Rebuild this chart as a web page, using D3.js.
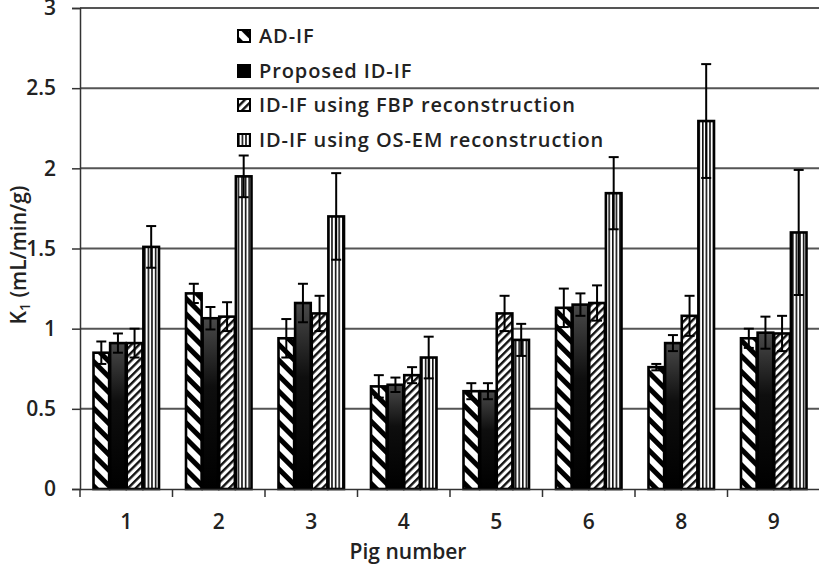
<!DOCTYPE html>
<html><head><meta charset="utf-8">
<script src="https://cdn.jsdelivr.net/npm/d3@7"></script>
<style>body{margin:0;background:#fff}svg{display:block}text{font-family:"Open Sans",sans-serif;fill:#222}</style>
</head><body><svg id="c" width="819" height="564"></svg>
<script>
const pigs = ["1","2","3","4","5","6","8","9"];
const seriesNames = ["AD-IF","Proposed ID-IF","ID-IF using FBP reconstruction","ID-IF using OS-EM reconstruction"];
const adif    = [0.85,1.22,0.94,0.64,0.61,1.13,0.76,0.94];
const adifErr = [0.07,0.06,0.12,0.07,0.05,0.12,0.02,0.06];
const prop    = [0.91,1.065,1.16,0.65,0.61,1.15,0.91,0.975];
const propErr = [0.06,0.07,0.12,0.045,0.05,0.07,0.05,0.10];
const fbp     = [0.91,1.075,1.095,0.71,1.095,1.16,1.08,0.97];
const fbpErr  = [0.09,0.09,0.11,0.05,0.11,0.11,0.125,0.11];
const osem    = [1.51,1.95,1.70,0.82,0.93,1.845,2.295,1.60];
const osemErr = [0.13,0.13,0.27,0.13,0.10,0.225,0.355,0.39];
const yTicks = [0,0.5,1,1.5,2,2.5,3];

const values = [adif, prop, fbp, osem];
const errs = [adifErr, propErr, fbpErr, osemErr];

const svg = d3.select("#c");
const defs = svg.append("defs");
const p1 = defs.append("pattern").attr("id","pAD").attr("patternUnits","userSpaceOnUse")
  .attr("width",11).attr("height",11).attr("patternTransform","rotate(45)");
p1.append("rect").attr("width",11).attr("height",11).attr("fill","#fff");
p1.append("rect").attr("x",0).attr("y",0).attr("width",11).attr("height",5).attr("fill","#000");
const p3 = defs.append("pattern").attr("id","pFBP").attr("patternUnits","userSpaceOnUse")
  .attr("width",5.5).attr("height",5.5).attr("patternTransform","rotate(-45)");
p3.append("rect").attr("width",5.5).attr("height",5.5).attr("fill","#fff");
p3.append("rect").attr("x",0).attr("y",0).attr("width",5.5).attr("height",2.4).attr("fill","#111");
const p4 = defs.append("pattern").attr("id","pOS").attr("patternUnits","userSpaceOnUse")
  .attr("width",3.6).attr("height",10);
p4.append("rect").attr("width",3.6).attr("height",10).attr("fill","#fff");
p4.append("rect").attr("x",0).attr("y",0).attr("width",1.6).attr("height",10).attr("fill","#111");
const g2 = defs.append("linearGradient").attr("id","gProp").attr("x1",0).attr("y1",0).attr("x2",0).attr("y2",1);
g2.append("stop").attr("offset","0%").attr("stop-color","#4a4a4a");
g2.append("stop").attr("offset","40%").attr("stop-color","#0e0e0e");
g2.append("stop").attr("offset","100%").attr("stop-color","#000");
const fills = ["url(#pAD)","url(#gProp)","url(#pFBP)","url(#pOS)"];

const x0 = d3.scaleBand().domain(pigs).range([80,820]).padding(0);
const x1 = d3.scaleBand().domain(d3.range(4)).range([12.5,79]).padding(0);
const y = d3.scaleLinear().domain([0,3]).range([489,8]);

svg.append("g").selectAll("line").data(yTicks.filter(d=>d>0)).join("line")
  .attr("x1",80).attr("x2",819).attr("y1",d=>y(d)).attr("y2",d=>y(d))
  .attr("stroke","#555").attr("stroke-width",2);

const ya = svg.append("g").attr("transform","translate(80,0)")
  .call(d3.axisLeft(y).tickValues(yTicks).tickFormat(d3.format("")).tickSize(8).tickPadding(16));
ya.select(".domain").attr("stroke","#333").attr("stroke-width",1.5);
ya.selectAll(".tick line").attr("stroke","#333").attr("stroke-width",1.5);
ya.selectAll("text").attr("font-size",21).attr("font-weight",600).attr("fill","#222").attr("font-family","'Open Sans',sans-serif");

const legY = [36,71,105,140];
const leg = svg.append("g");
seriesNames.forEach((n,i)=>{
  const g = leg.append("g").attr("transform",`translate(238,${legY[i]})`);
  g.append("rect").attr("x",0).attr("y",-6).attr("width",12).attr("height",12)
    .attr("fill", i===1 ? "#000" : fills[i]).attr("stroke","#000").attr("stroke-width",2);
  g.append("text").attr("x",21).attr("y",0).attr("dy","0.36em").attr("font-size",20).attr("font-weight",600)
    .attr("letter-spacing",0.9).attr("fill","#222").text(n);
});

const groups = svg.append("g").selectAll("g").data(d3.range(4)).join("g");
groups.each(function(s){
  const g = d3.select(this);
  g.selectAll("rect").data(pigs).join("rect")
    .attr("x",(p)=>x0(p)+x1(s)+1)
    .attr("width",x1.bandwidth()-1)
    .attr("y",(p,i)=>y(values[s][i]))
    .attr("height",(p,i)=>y(0)-y(values[s][i]))
    .attr("fill",fills[s]).attr("stroke","#000").attr("stroke-width",2.6);
  const eb = g.selectAll("g.err").data(pigs).join("g").attr("class","err");
  const cx = (p)=>x0(p)+x1(s)+x1.bandwidth()/2+0.5;
  eb.append("line")
    .attr("x1",cx).attr("x2",cx)
    .attr("y1",(p,i)=>y(values[s][i]+errs[s][i])).attr("y2",(p,i)=>y(values[s][i]-errs[s][i]))
    .attr("stroke","#000").attr("stroke-width",2);
  [1,-1].forEach(sign=>{
    eb.append("line")
      .attr("x1",p=>cx(p)-5).attr("x2",p=>cx(p)+5)
      .attr("y1",(p,i)=>y(values[s][i]+sign*errs[s][i])).attr("y2",(p,i)=>y(values[s][i]+sign*errs[s][i]))
      .attr("stroke","#000").attr("stroke-width",2);
  });
});

const xa = svg.append("g").attr("transform",`translate(0,${y(0)})`)
  .call(d3.axisBottom(x0).tickSize(0).tickPadding(25));
xa.select(".domain").attr("stroke","#333").attr("stroke-width",1.5);
xa.selectAll("text").attr("font-size",21).attr("font-weight",600).attr("fill","#222").attr("font-family","'Open Sans',sans-serif");
svg.append("g").selectAll("line").data(pigs).join("line")
  .attr("x1",p=>x0(p)).attr("x2",p=>x0(p)).attr("y1",y(0)).attr("y2",y(0)+8)
  .attr("stroke","#333").attr("stroke-width",1.5);

svg.append("text").attr("x",408).attr("y",551).attr("dy","0.36em").attr("text-anchor","middle")
  .attr("font-size",21).attr("font-weight",600).text("Pig number");
const yt = svg.append("text").attr("transform","translate(18,255) rotate(-90)").attr("text-anchor","middle")
  .attr("dy","0.36em").attr("font-size",21).attr("font-weight",600);
yt.append("tspan").text("K");
yt.append("tspan").attr("font-size",14).attr("dy","4").text("1");
yt.append("tspan").attr("dy","-4").text(" (mL/min/g)");
</script></body></html>
